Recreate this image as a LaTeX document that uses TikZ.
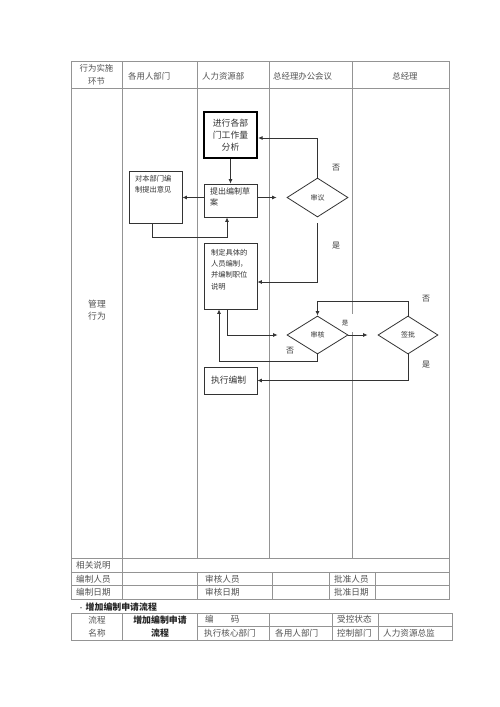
\documentclass[tikz,border=0pt]{standalone}
\usepackage{fontspec}
\setmainfont{Noto Sans CJK SC}
\usetikzlibrary{arrows.meta,shapes.geometric}
\newcommand\fsz[2]{\fontsize{#1pt}{#2pt}\selectfont}
\definecolor{tline}{gray}{0.58}
\definecolor{ttext}{gray}{0.32}
\definecolor{fline}{gray}{0.2}
\begin{document}
\begin{tikzpicture}[x=1pt,y=-1pt,
  tl/.style={draw=tline,line width=0.8pt},
  tt/.style={text=ttext,inner sep=0,font=\fsz{8.6}{12}},
  fbox/.style={draw=fline,line width=0.8pt,inner sep=0,minimum width=53pt,text=fline},
  dia/.style={diamond,draw=fline,line width=0.8pt,inner sep=0,font=\fsz{7}{8},text=fline},
  arr/.style={draw=fline,line width=0.8pt,-{Latex[length=4.5pt,width=4pt]}},
  lbl/.style={inner sep=0,font=\fsz{8}{9},text=fline},
]
\useasboundingbox (0,0) rectangle (500,707);
\fill[white] (0,0) rectangle (500,707);

% ---------- main table ----------
\draw[tl] (71,61) rectangle (449,558);
\draw[tl] (71,88) -- (449,88);
\foreach \x in {122.5,197,269,352} \draw[tl] (\x,61) -- (\x,558);
% bottom block
\draw[tl] (71,558) rectangle (449,599);
\draw[tl] (71,572) -- (449,572);
\draw[tl] (71,585) -- (449,585);
\draw[tl] (122.5,558) -- (122.5,599);
\foreach \x in {197,272,329,375} \draw[tl] (\x,572) -- (\x,599);
% second table
\draw[tl] (71,613) rectangle (452,640);
\draw[tl] (197,626) -- (452,626);
\foreach \x in {122.5,197,269,332,378} \draw[tl] (\x,613) -- (\x,640);

% ---------- header texts ----------
\node[tt,align=center,font=\fsz{8.4}{13}] (h0) at (96.5,75) {行为实施\\环节};
\node[tt,anchor=west,font=\fsz{8.4}{10}] (h1) at (128,76) {各用人部门};
\node[tt,anchor=west,font=\fsz{8.4}{10}] (h2) at (202,76) {人力资源部};
\node[tt,anchor=west,font=\fsz{8.4}{10}] (h3) at (273,76) {总经理办公会议};
\node[tt,font=\fsz{8.4}{10}] (h4) at (405,76) {总经理};
\node[tt,align=center,font=\fsz{8.8}{12}] (gl) at (97,310) {管理\\行为};

% bottom block texts
\node[tt,anchor=west] (r1) at (76,565) {相关说明};
\node[tt,anchor=west] (r2) at (76,579) {编制人员};
\node[tt,anchor=west] (r3) at (76,592) {编制日期};
\node[tt,anchor=west] (r4) at (205,579) {审核人员};
\node[tt,anchor=west] (r5) at (205,592) {审核日期};
\node[tt,anchor=west] (r6) at (334,579) {批准人员};
\node[tt,anchor=west] (r7) at (334,592) {批准日期};

% title
\node[inner sep=0,anchor=west,text=black!85] (title) at (78,607) {{\fsz{6}{7}•}\hspace{1.5pt}{\fsz{8.9}{10}\bfseries 增加编制申请流程}};

% second table texts
\node[tt,align=center,font=\fsz{8.6}{13}] (s0) at (97,626.5) {流程\\名称};
\node[inner sep=0,align=center,font=\fsz{8.9}{13}\bfseries,text=black!85] (s1) at (160,626.5) {增加编制申请\\流程};
\node[tt,anchor=west] (s2) at (205,619.5) {编\hspace{17pt}码};
\node[tt,anchor=west] (s3) at (337,619.5) {受控状态};
\node[tt,anchor=west] (s4) at (204,633) {执行核心部门};
\node[tt,anchor=west] (s5) at (275,633) {各用人部门};
\node[tt,anchor=west] (s6) at (337,633) {控制部门};
\node[tt,anchor=west] (s7) at (383,633) {人力资源总监};

% ---------- flowchart ----------
\node[fbox,line width=2.2pt,draw=black,minimum height=46pt,align=center,font=\fsz{8.8}{12.3}] (b1) at (230.5,135) {进行各部\\门工作量\\分析};
\node[fbox,inner xsep=6pt,inner ysep=4pt,font=\fsz{7.3}{11}] (b2) at (155.5,197) {\parbox[c][44pt][t]{41pt}{对本部门编\\制提出意见}};
\node[fbox,inner xsep=6pt,inner ysep=4pt,font=\fsz{8}{10.5}] (b3) at (230.5,200.5) {\parbox[c][25pt][t]{41pt}{提出编制草\\案}};
\node[fbox,inner xsep=7pt,inner ysep=6pt,font=\fsz{7.3}{11.3}] (b4) at (230.5,276) {\parbox[c][54pt][t]{39pt}{制定具体的\\人员编制，\\并编制职位\\说明}};
\node[fbox,inner xsep=7pt,minimum height=27pt,text width=39pt,align=left,font=\fsz{8.8}{10}] (b5) at (230.5,380.5) {执行编制};

% label that masks the lane line
\node[lbl,fill=white,minimum width=16pt,minimum height=18pt,font=\fsz{6.5}{7}] (l3) at (345,323) {是};

\node[dia,minimum width=61pt,minimum height=39pt] (d1) at (317.5,197.5) {审议};
\node[dia,minimum width=61pt,minimum height=38pt] (d2) at (317.5,335) {审核};
\node[dia,minimum width=60pt,minimum height=38pt] (d3) at (408,335) {签批};

\node[lbl] (l1) at (336,168) {否};
\node[lbl] (l2) at (336,246) {是};
\node[lbl] (l4) at (290,351) {否};
\node[lbl] (l5) at (426,299) {否};
\node[lbl] (l6) at (426,365) {是};

% connectors
\draw[arr] (b1.south) -- (b3.north);
\draw[arr] (b3.west |- d1) -- (b2.east |- d1);
\draw[arr,shorten >=10pt] (b3.east |- d1) -- (d1.west);
\draw[arr] ([xshift=-3.5pt]b2.south) -- ++(0,14) -| ([xshift=-3.5pt]b3.south);
\draw[arr] (d1.north) |- ([yshift=-3pt]b1.east);
\draw[arr,shorten <=6pt] (d1.south) |- ([yshift=-6pt]b4.east);
\draw[arr,shorten >=9pt] ([xshift=-3.5pt]b4.south) |- (d2.west);
\draw[arr,shorten >=10pt] (d2.east) -- (d3.west);
\draw[arr] (d2.south) -- ++(0,7) -| ([xshift=-11.5pt]b4.south);
\draw[arr] (d3.north) -- ++(0,-14) -| (d2.north);
\draw[arr] (d3.south) |- (b5.east);
\end{tikzpicture}
\end{document}
